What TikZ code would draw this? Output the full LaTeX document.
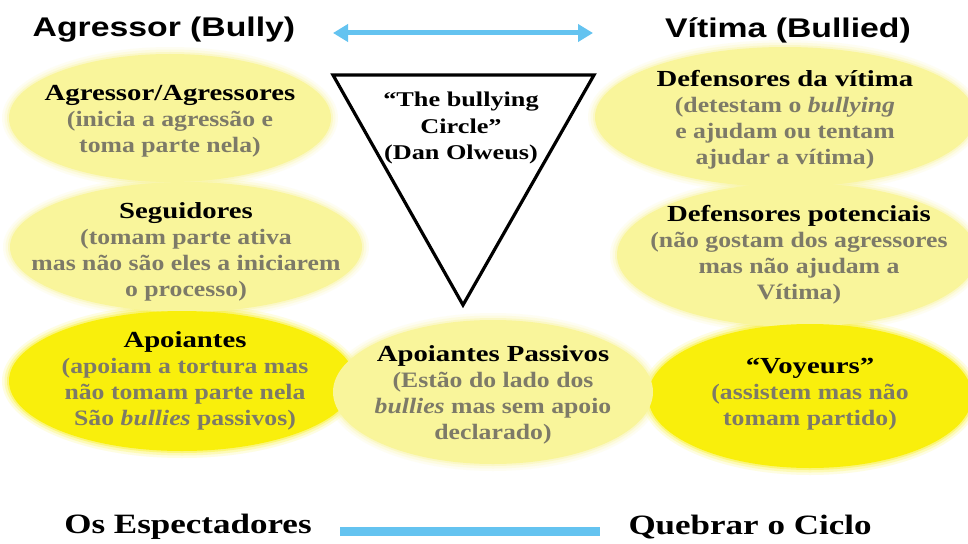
\documentclass[tikz,border=0pt]{standalone}
\usepackage{fontspec}
\setmainfont{Liberation Serif}[FakeStretch=1.25]
\newfontfamily\efont{Liberation Serif}[FakeStretch=1.17]
\newfontfamily\headfont{Liberation Sans}[FakeStretch=1.25]
\usetikzlibrary{shapes.geometric,arrows.meta}
\definecolor{lightY}{RGB}{249,245,155}
\definecolor{brightY}{RGB}{249,239,12}
\definecolor{skyb}{RGB}{100,195,240}
\definecolor{subgray}{RGB}{125,122,104}
\tikzset{
 ell/.style={ellipse, inner sep=0pt, draw=none},
 lightell/.style={ell, fill=lightY},
 brightell/.style={ell, fill=brightY},
 etext/.style={align=center, text=subgray, font=\efont\fontsize{22}{26}\selectfont\bfseries, inner sep=0pt},
 head/.style={font=\headfont\fontsize{27}{30}\selectfont\bfseries, inner sep=0pt},
 foot/.style={font=\fontsize{28}{30}\selectfont\bfseries, inner sep=0pt},
 tritext/.style={align=center, font=\fontsize{21}{26.5}\selectfont\bfseries, inner sep=0pt},
 bluearrow/.style={draw=skyb, line width=5pt, {Triangle[length=15pt,width=17pt]}-{Triangle[length=15pt,width=17pt]}},
 blueline/.style={draw=skyb, line width=9pt},
 tri/.style={draw=black, line width=3.2pt, line join=miter}
}
\newcommand{\hd}[1]{\textcolor{black}{\fontspec{Liberation Serif}[FakeStretch=1.25]\fontsize{23}{26}\selectfont\bfseries #1}}
\newcommand{\halo}[4]{%
  \foreach \d/\o in {7/0.12,4.5/0.2,2/0.35}{\fill[#4, opacity=\o] (#1) ellipse ({#2+\d} and {#3+\d});}}
\begin{document}
\begin{tikzpicture}[x=1pt,y=-1pt]
\useasboundingbox (0,0) rectangle (968,543);
\fill[white] (0,0) rectangle (968,543);
\clip (0,0) rectangle (968,543);
% soft edges
\halo{170,118}{161}{64}{lightY}
\halo{186,247}{176}{65}{lightY}
\halo{182,381}{173}{70}{brightY}
\halo{785,117}{190}{70}{lightY}
\halo{797,255}{180}{72}{lightY}
\halo{810,396}{162}{72}{brightY}
\halo{493,392}{160}{72}{lightY}
% ellipses
\node[lightell, minimum width=322pt, minimum height=128pt] (e1) at (170,118) {};
\node[lightell, minimum width=352pt, minimum height=130pt] (e2) at (186,247) {};
\node[brightell, minimum width=346pt, minimum height=140pt] (e3) at (182,381) {};
\node[lightell, minimum width=380pt, minimum height=140pt] (e6) at (785,117) {};
\node[lightell, minimum width=360pt, minimum height=144pt] (e7) at (797,255) {};
\node[brightell, minimum width=324pt, minimum height=144pt] (e5) at (810,396) {};
\node[lightell, minimum width=320pt, minimum height=144pt] (e4) at (493,392) {};
% ellipse texts
\node[etext] (t1) at (170,121) {\hd{Agressor/Agressores}\\(inicia a agressão e\\toma parte nela)};
\node[etext] (t2) at (186,252) {\hd{Seguidores}\\(tomam parte ativa\\mas não são eles a iniciarem\\o processo)};
\node[etext] (t3) at (185,381) {\hd{Apoiantes}\\(apoiam a tortura mas\\não tomam parte nela\\São \textit{bullies} passivos)};
\node[etext] (t4) at (493,395) {\hd{Apoiantes Passivos}\\(Estão do lado dos\\\textit{bullies} mas sem apoio\\declarado)};
\node[etext] (t5) at (810,394) {\hd{“Voyeurs”}\\(assistem mas não\\tomam partido)};
\node[etext] (t6) at (785,120) {\hd{Defensores da vítima}\\(detestam o \textit{bullying}\\e ajudam ou tentam\\ajudar a vítima)};
\node[etext] (t7) at (799,255) {\hd{Defensores potenciais}\\(não gostam dos agressores\\mas não ajudam a\\Vítima)};
% triangle
\coordinate (tl) at (333,75);
\coordinate (tr) at (594,75);
\coordinate (tb) at (463,305);
\draw[tri] (tl) -- (tr) -- (tb) -- cycle;
\node[tritext] (tt) at (461,128) {“The bullying\\Circle”\\(Dan Olweus)};
% headings
\node[head] (hl) at (164,30) {Agressor (Bully)};
\node[head] (hr) at (788,30) {Vítima (Bullied)};
\coordinate (al) at (333,33);
\coordinate (ar) at (593,33);
\draw[bluearrow] (al) -- (ar);
% footer
\node[foot] (fl) at (188,527) {Os Espectadores};
\node[foot] (fr) at (750,527) {Quebrar o Ciclo};
\coordinate (bl) at (340,531);
\coordinate (br) at (600,531);
\draw[blueline] (bl) -- (br);
\end{tikzpicture}
\end{document}
